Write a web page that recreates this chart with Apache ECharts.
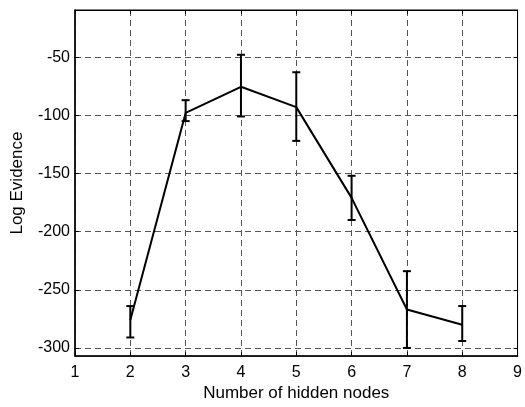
<!DOCTYPE html>
<html>
<head>
<meta charset="utf-8">
<script src="https://cdn.jsdelivr.net/npm/echarts@6/dist/echarts.min.js"></script>
<style>
  html, body { margin: 0; padding: 0; background: #fff; }
  #chart { width: 525px; height: 407px; }
</style>
</head>
<body>
<div id="chart"></div>
<script>
// hidden node count vs log evidence (mean + error bar ends)
var nodes = [2, 3, 4, 5, 6, 7, 8];
var evidence = [-276, -98, -75.5, -93, -171, -267, -280];
var upper = [-264, -87, -48, -63, -152, -234, -264];
var lower = [-291, -105, -101, -122, -190, -300, -294];
var yTicks = [-300, -250, -200, -150, -100, -50];

var font = 'Liberation Sans, Arial, Helvetica, sans-serif';

var meanData = nodes.map(function (n, i) { return [n, evidence[i]]; });
var barData = nodes.map(function (n, i) { return [n, lower[i], upper[i]]; });

var chart = echarts.init(document.getElementById('chart'));

var gridLine = { show: true, lineStyle: { color: '#555', width: 1, type: [6, 4] } };

var option = {
  animation: false,
  backgroundColor: '#fff',
  grid: { left: 75, right: 3.5, top: 10, bottom: 46.3, show: true, borderColor: '#000', borderWidth: 1 },
  xAxis: [{
    type: 'value', min: 1, max: 9, interval: 1,
    name: 'Number of hidden nodes', nameLocation: 'middle', nameGap: 27,
    nameTextStyle: { fontFamily: font, fontSize: 17, color: '#000' },
    axisLine: { onZero: false, lineStyle: { color: '#000', width: 1.5 } },
    axisTick: { inside: true, length: 4, lineStyle: { color: '#000' } },
    axisLabel: { margin: 8, fontFamily: font, fontSize: 16, color: '#000' },
    splitLine: gridLine
  }, {
    type: 'value', min: 1, max: 9, interval: 1, position: 'top',
    axisLine: { onZero: false, lineStyle: { color: '#000', width: 1 } },
    axisTick: { inside: true, length: 4, lineStyle: { color: '#000' } },
    axisLabel: { show: false }, splitLine: { show: false }
  }],
  yAxis: [{
    type: 'value', min: -307, max: -9.5,
    name: 'Log Evidence', nameLocation: 'middle', nameGap: 49,
    nameTextStyle: { fontFamily: font, fontSize: 17, color: '#000' },
    axisLine: { onZero: false, lineStyle: { color: '#000', width: 1.5 } },
    axisTick: { inside: true, length: 4, customValues: yTicks, lineStyle: { color: '#000' } },
    axisLabel: { margin: 5, customValues: yTicks, fontFamily: font, fontSize: 16, color: '#000' },
    splitLine: gridLine
  }, {
    type: 'value', min: -307, max: -9.5, position: 'right',
    axisLine: { onZero: false, lineStyle: { color: '#000', width: 1 } },
    axisTick: { inside: true, length: 4, customValues: yTicks, lineStyle: { color: '#000' } },
    axisLabel: { show: false }, splitLine: { show: false }
  }],
  series: [{
    type: 'line',
    data: meanData,
    symbol: 'none',
    lineStyle: { color: '#000', width: 2 },
    z: 3
  }, {
    type: 'custom',
    data: barData,
    z: 4,
    renderItem: function (params, api) {
      var x = api.value(0);
      var lo = api.coord([x, api.value(1)]);
      var hi = api.coord([x, api.value(2)]);
      var cap = 4;
      var style = { stroke: '#000', lineWidth: 2 };
      return {
        type: 'group',
        children: [
          { type: 'line', shape: { x1: lo[0], y1: lo[1], x2: hi[0], y2: hi[1] }, style: style },
          { type: 'line', shape: { x1: lo[0] - cap, y1: lo[1], x2: lo[0] + cap, y2: lo[1] }, style: style },
          { type: 'line', shape: { x1: hi[0] - cap, y1: hi[1], x2: hi[0] + cap, y2: hi[1] }, style: style }
        ]
      };
    }
  }]
};

chart.setOption(option);
</script>
</body>
</html>
